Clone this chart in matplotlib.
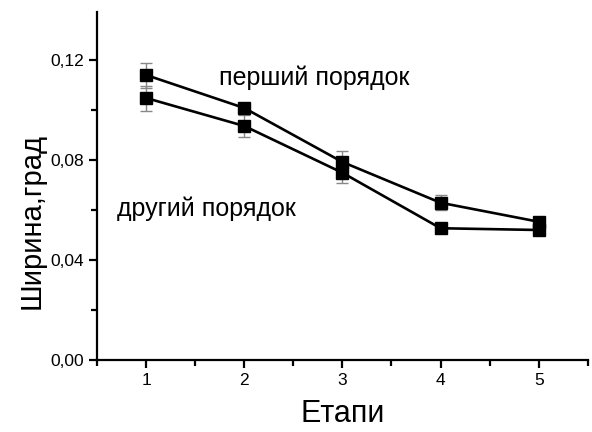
import numpy as np
import matplotlib
matplotlib.use('Agg')
from matplotlib import pyplot as plt
from matplotlib.ticker import MultipleLocator, FuncFormatter

plt.rcParams['font.family'] = ['Liberation Sans', 'DejaVu Sans']

# stages and line widths for both diffraction orders
stages = [1, 2, 3, 4, 5]
first_order = [0.114, 0.1008, 0.0792, 0.0629, 0.0553]
first_err = [0.005, 0.002, 0.0045, 0.003, 0.002]
second_order = [0.1048, 0.0936, 0.0749, 0.0527, 0.052]
second_err = [0.005, 0.0045, 0.004, 0.0015, 0.002]

fig = plt.figure(figsize=(5.92, 4.32), dpi=100)
ax = fig.add_axes([0.1639, 0.1667, 0.829, 0.8055])

for vals, errs in [(first_order, first_err), (second_order, second_err)]:
    ax.errorbar(stages, vals, yerr=errs, fmt='none', ecolor='#888888',
                elinewidth=1, capsize=4.5, capthick=1, zorder=2)
    ax.plot(stages, vals, color='black', lw=1.9, marker='s', ms=8.5,
            mfc='black', mec='black', zorder=3)

ax.text(1.745, 0.110, 'перший порядок', fontsize=18, ha='left', va='baseline')
ax.text(0.704, 0.0576, 'другий порядок', fontsize=18, ha='left', va='baseline')

ax.set_xlim(0.5, 5.5)
ax.set_ylim(0, 0.1392)
ax.xaxis.set_major_locator(MultipleLocator(1))
ax.xaxis.set_minor_locator(MultipleLocator(0.5))
ax.yaxis.set_major_locator(MultipleLocator(0.04))
ax.yaxis.set_minor_locator(MultipleLocator(0.02))
ax.yaxis.set_major_formatter(FuncFormatter(lambda v, p: f'{v:.2f}'.replace('.', ',')))

for s in ['top', 'right']:
    ax.spines[s].set_visible(False)
for s in ['left', 'bottom']:
    ax.spines[s].set_linewidth(1.6)

ax.tick_params(which='major', direction='out', length=6, width=1.6, labelsize=12.5)
ax.tick_params(which='minor', direction='out', length=4, width=1.6)

ax.set_xlabel('Етапи', fontsize=22, labelpad=8)
ax.set_ylabel('Ширина,град', fontsize=21)
ax.yaxis.set_label_coords(-0.105, 0.40)

fig.savefig('out.png', dpi=100)
